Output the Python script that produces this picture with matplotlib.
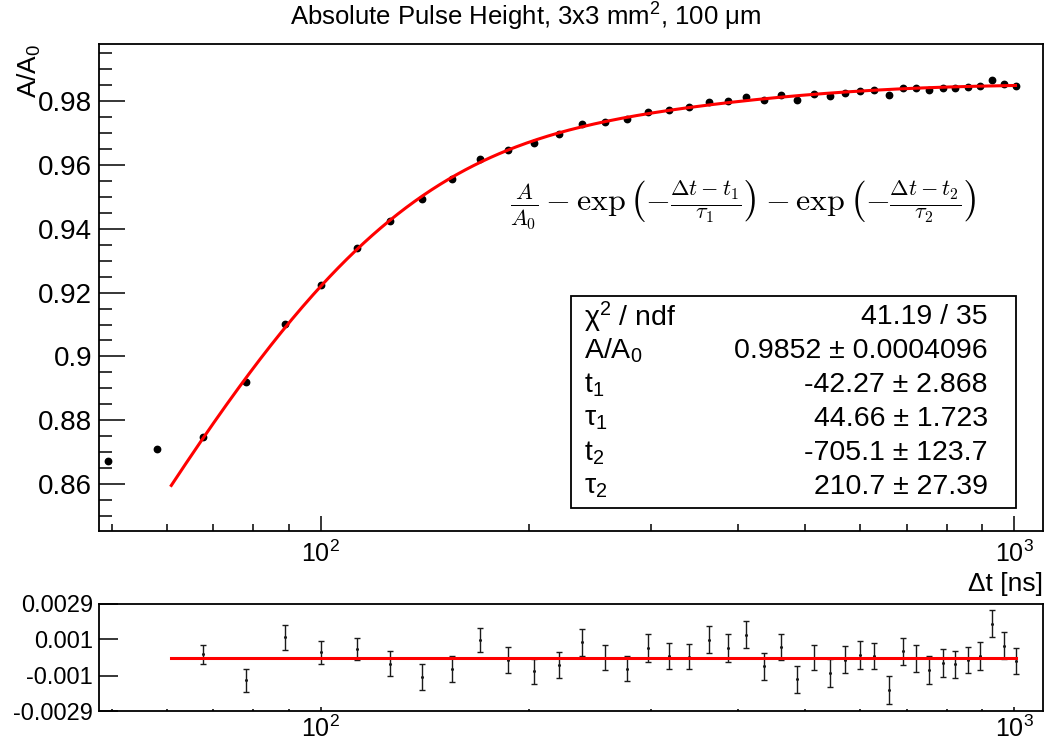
"""
Absolute pulse height vs. time difference, fit + residuals (ROOT-style canvas).
"""

import numpy as np
import matplotlib
matplotlib.use("Agg")
import matplotlib.pyplot as plt
from matplotlib.patches import Rectangle
from matplotlib.ticker import FixedLocator, FuncFormatter, NullFormatter, NullLocator

plt.rcParams["font.family"] = ["Liberation Sans", "DejaVu Sans"]
plt.rcParams["mathtext.fontset"] = "custom"
plt.rcParams["mathtext.rm"] = "Liberation Sans"
plt.rcParams["mathtext.it"] = "Liberation Sans:italic"
plt.rcParams["mathtext.bf"] = "Liberation Sans:bold"
plt.rcParams["mathtext.sf"] = "Liberation Sans"

# ---- data ----
dt_ns = [49.4, 58.1, 67.7, 78.1, 88.9, 100.1, 112.9, 126.0, 140.1, 154.8,
         169.9, 186.5, 203.3, 220.9, 238.4, 257.3, 276.8, 296.9, 318.4, 340.2,
         363.6, 386.4, 410.8, 435.5, 460.8, 487.1, 514.2, 542.3, 570.0, 599.1,
         629.1, 659.7, 691.1, 723.3, 755.1, 789.3, 823.3, 858.8, 894.5, 930.0,
         966.7, 1005.0]
ratio = [0.8672, 0.8710, 0.8746, 0.8921, 0.9102, 0.9223, 0.9341, 0.9424, 0.9492, 0.9556,
         0.9618, 0.9646, 0.9669, 0.9697, 0.9728, 0.9736, 0.9744, 0.9766, 0.9772, 0.9781,
         0.9798, 0.9800, 0.9814, 0.9803, 0.9818, 0.9805, 0.9821, 0.9817, 0.9827, 0.9833,
         0.9835, 0.9819, 0.9842, 0.9840, 0.9835, 0.9841, 0.9841, 0.9845, 0.9848, 0.9866,
         0.9855, 0.9847]
ratio_err = [0.00045, 0.00050, 0.00053, 0.00061, 0.00066, 0.00062, 0.00060, 0.00069, 0.00070, 0.00071,
             0.00067, 0.00070, 0.00069, 0.00071, 0.00073, 0.00067, 0.00070, 0.00075, 0.00072, 0.00068,
             0.00073, 0.00075, 0.00073, 0.00072, 0.00069, 0.00072, 0.00066, 0.00076, 0.00072, 0.00076,
             0.00070, 0.00075, 0.00073, 0.00074, 0.00075, 0.00076, 0.00073, 0.00071, 0.00075, 0.00073,
             0.00075, 0.00069]
# residuals (data - fit) of the points inside the fit range
residual = [0.17e-3, -1.24e-3, 1.09e-3, 0.28e-3, 0.47e-3, -0.33e-3, -1.06e-3, -0.61e-3, 0.95e-3, -0.15e-3,
            -0.75e-3, -0.41e-3, 0.82e-3, 0.00e-3, -0.60e-3, 0.53e-3, 0.09e-3, 0.04e-3, 0.96e-3, 0.53e-3,
            1.24e-3, -0.48e-3, 0.56e-3, -1.19e-3, 0.00e-3, -0.86e-3, -0.11e-3, 0.12e-3, 0.09e-3, -1.75e-3,
            0.35e-3, -0.04e-3, -0.69e-3, -0.29e-3, -0.37e-3, -0.14e-3, 0.09e-3, 1.82e-3, 0.65e-3, -0.20e-3]
first_fit_point = 2

# fit parameters from the stats box
par_names = ["A/A$_0$", "t$_1$", "τ$_1$", "t$_2$", "τ$_2$"]
par_values = [0.9852, -42.27, 44.66, -705.1, 210.7]
par_texts = ["0.9852 ± 0.0004096", "-42.27 ± 2.868", "44.66 ± 1.723",
             "-705.1 ± 123.7", "210.7 ± 27.39"]
chi2_text = "41.19 / 35"
fit_range = [60.9, 1005.0]


def fit_func(x, a, t1, tau1, t2, tau2):
    return a - np.exp(-(x - t1) / tau1) - np.exp(-(x - t2) / tau2)


W, H = 1047, 753


def fx(px):
    return px / W


def fy(py):
    return 1 - py / H


fig = plt.figure(figsize=(W / 100, H / 100), dpi=100)
ax = fig.add_axes([fx(99), fy(531), fx(1043) - fx(99), fy(44) - fy(531)])
axr = fig.add_axes([fx(99), fy(711), fx(1043) - fx(99), fy(604) - fy(711)])

xlim = (47.9, 1101)

# ---- top panel ----
ax.errorbar(dt_ns, ratio, yerr=ratio_err, fmt="o", ms=4.6, color="black",
            elinewidth=0.8, capsize=0, zorder=2)
xf = np.logspace(np.log10(fit_range[0]), np.log10(fit_range[1]), 400)
ax.plot(xf, fit_func(xf, *par_values), color="#ff0000", lw=2.2, zorder=3)

ax.set_xscale("log")
ax.set_xlim(*xlim)
ax.set_ylim(0.8453, 0.9979)

ax.xaxis.set_major_locator(FixedLocator([100, 1000]))
ax.xaxis.set_major_formatter(FuncFormatter(lambda v, p: r"$10^{%d}$" % round(np.log10(v))))
ax.xaxis.set_minor_locator(FixedLocator([50, 60, 70, 80, 90, 200, 300, 400, 500, 600, 700, 800, 900]))
ax.xaxis.set_minor_formatter(NullFormatter())
ax.yaxis.set_major_locator(FixedLocator([0.86, 0.88, 0.90, 0.92, 0.94, 0.96, 0.98]))
ax.yaxis.set_major_formatter(FuncFormatter(lambda v, p: "%g" % round(v, 4)))
ax.yaxis.set_minor_locator(FixedLocator(np.arange(0.850, 0.9951, 0.005)))

ax.tick_params(axis="y", which="major", direction="in", length=19, width=1.1,
               labelsize=20, pad=5, right=False)
ax.tick_params(axis="y", which="minor", direction="in", length=9.5, width=1.1, right=False)
ax.tick_params(axis="x", which="major", direction="in", length=10.5, width=1.1,
               labelsize=18, pad=7, top=False)
ax.tick_params(axis="x", which="minor", direction="in", length=5.3, width=1.1, top=False)
for s in ax.spines.values():
    s.set_linewidth(1.3)

# formula
fig.text(fx(743), fy(205),
         r"$\frac{A}{A_0} - \exp\left(-\frac{\Delta t - t_1}{\tau_1}\right)"
         r" - \exp\left(-\frac{\Delta t - t_2}{\tau_2}\right)$",
         ha="center", va="center", fontsize=23, math_fontfamily="cm")

# stats box
fig.patches.append(Rectangle((fx(570.5), fy(508)), fx(1016) - fx(570.5), fy(296) - fy(508),
                             transform=fig.transFigure, facecolor="white",
                             edgecolor="black", lw=1.3, zorder=4))
rows_l = ["χ$^{2}$ / ndf"] + par_names
rows_r = [chi2_text] + par_texts
for i, (tl, tr) in enumerate(zip(rows_l, rows_r)):
    yy = fy(317 + 34 * i)
    fig.text(fx(584), yy, tl, ha="left", va="center", fontsize=20.5, zorder=5)
    fig.text(fx(988), yy, tr, ha="right", va="center", fontsize=20.5, zorder=5)

# titles and axis labels
fig.text(fx(526), fy(17), "Absolute Pulse Height, 3x3 mm$^{2}$, 100 μm",
         ha="center", va="center", fontsize=18.5)
fig.text(fx(29), fy(44), "A/A$_0$", rotation=90, ha="center", va="top", fontsize=19)
fig.text(fx(1043), fy(584), "Δt [ns]", ha="right", va="center", fontsize=19)

# ---- residual panel ----
xs = dt_ns[first_fit_point:]
axr.errorbar(xs, residual, yerr=ratio_err[first_fit_point:], fmt="o", ms=1.2,
             color="#1a1a1a", elinewidth=1.0, capsize=2.0, capthick=1.0, zorder=2)
axr.plot(fit_range, [0, 0], color="#ff0000", lw=2.2, zorder=3)

axr.set_xscale("log")
axr.set_xlim(*xlim)
axr.set_ylim(-0.0029, 0.0029)
axr.xaxis.set_major_locator(FixedLocator([100, 1000]))
axr.xaxis.set_major_formatter(FuncFormatter(lambda v, p: r"$10^{%d}$" % round(np.log10(v))))
axr.xaxis.set_minor_locator(FixedLocator([50, 60, 70, 80, 90, 200, 300, 400, 500, 600, 700, 800, 900]))
axr.xaxis.set_minor_formatter(NullFormatter())
axr.yaxis.set_major_locator(FixedLocator([-0.0029, -0.001, 0.001, 0.0029]))
axr.yaxis.set_major_formatter(FuncFormatter(lambda v, p: "%g" % v))
axr.yaxis.set_minor_locator(NullLocator())

axr.tick_params(axis="y", which="major", direction="in", length=14, width=1.1,
                labelsize=17, pad=4.5, right=False)
axr.tick_params(axis="x", which="major", direction="in", length=3.2, width=1.1,
                labelsize=18, pad=3, top=False)
axr.tick_params(axis="x", which="minor", direction="in", length=1.8, width=1.1, top=False)
for s in axr.spines.values():
    s.set_linewidth(1.3)

fig.savefig("out.png", dpi=100)
